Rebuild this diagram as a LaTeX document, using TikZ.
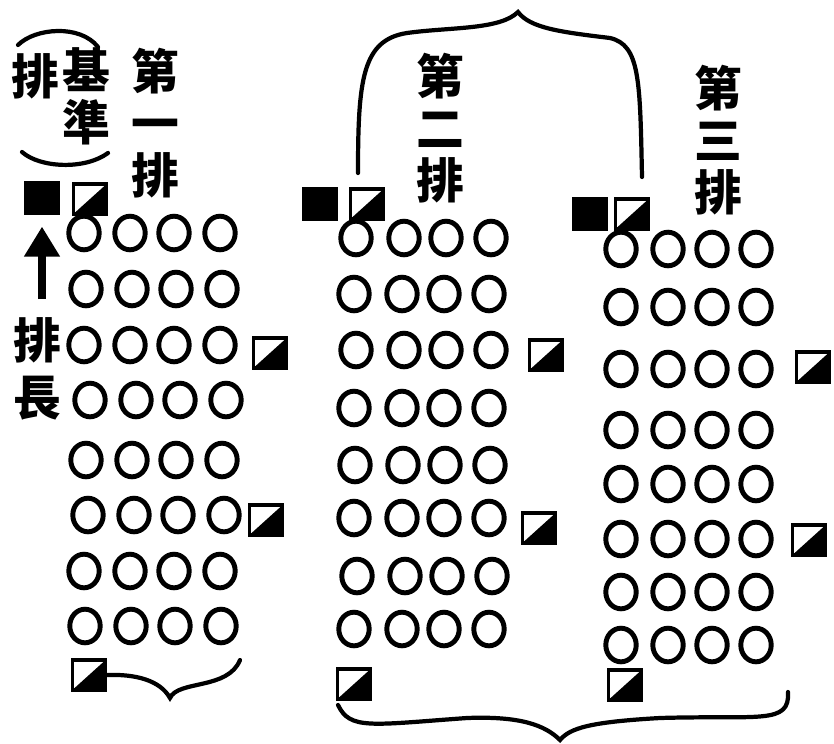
\documentclass[tikz,border=0pt]{standalone}
\usepackage{fontspec}
\newfontfamily\cjk{Noto Sans CJK TC}
\usetikzlibrary{shapes.geometric,arrows.meta}
\newcommand\platfont{\cjk\bfseries\fontsize{34}{37}\selectfont\setlength{\lineskiplimit}{-50pt}}
\tikzset{
  man/.style={ellipse,draw,line width=3.5pt,minimum width=0.76cm,minimum height=0.84cm,inner sep=0pt},
  ldr/.style={rectangle,draw,fill=black,line width=2.5pt,minimum width=0.82cm,minimum height=0.74cm,inner sep=0pt},
  nco/.style={rectangle,draw,line width=2.5pt,minimum width=0.82cm,minimum height=0.74cm,inner sep=0pt,
    path picture={\fill (path picture bounding box.south west) -- (path picture bounding box.south east)
      -- (path picture bounding box.north east) -- cycle;}},
  brace/.style={line width=3pt,line cap=round},
  vtext/.style={font=\platfont,align=center,inner sep=0pt},
}
\begin{document}
\begin{tikzpicture}[x=0.025cm,y=-0.025cm]
  \useasboundingbox (0,0) rectangle (834,743);
  % first platoon
  \foreach \r/\y/\dx in {1/233/0,2/289/2,3/345/0,4/400/6,5/460/2,6/515/4,7/571/0,8/626/1}
    \foreach \x [count=\k] in {84,130,174,220}
      \node[man] (p1-\r-\k) at (\x+\dx,\y) {};
  \node[ldr] (bk1) at (42,198) {};
  \node[nco] (hf1) at (90,199) {};
  \node[nco] (sg1a) at (270,353) {};
  \node[nco] (sg1b) at (266,520) {};
  \node[nco] (tl1) at (89,675) {};
  \node[vtext] (lbl1) at (155,123) {第\\一\\排};
  \node[vtext] (base) at (86,96) {基\\準};
  \node[vtext] (baseb) at (35,76) {排};
  \node[vtext,font=\cjk\bfseries\fontsize{34}{41}\selectfont] (pzlbl) at (37,369) {排\\長};
  \draw[brace] (18,45) .. controls (35,28) and (80,24) .. (98,47);
  \draw[brace] (22,152) .. controls (40,168) and (85,170) .. (108,153);
  \draw[line width=5.5pt,-{Triangle[width=0.85cm,length=0.75cm]},shorten <=0.45cm,shorten >=0.3cm]
    (pzlbl.north -| bk1) -- (bk1);
  \draw[brace] (tl1.east) .. controls (135,674) and (160,680) .. (170,698)
    .. controls (178,680) and (228,690) .. (240,660);
  % second platoon
  \foreach \r/\y/\dx in {1/238/0,2/294/-2,3/350/0,4/408/-2,5/465/-1,6/518/-2,7/576/1,8/629/-2}
    \foreach \x [count=\k] in {356,404,446,491}
      \node[man] (p2-\r-\k) at (\x+\dx,\y) {};
  \node[ldr] (bk2) at (320,204) {};
  \node[nco] (hf2) at (367,204) {};
  \node[nco] (sg2a) at (546,355) {};
  \node[nco] (sg2b) at (539,528) {};
  \node[nco] (tl2) at (354,684) {};
  \node[vtext] (lbl2) at (440,128) {第\\二\\排};
  % third platoon
  \foreach \r/\y/\dx in {1/249/0,2/307/0,3/369/0,4/430/0,5/484/0,6/539/0,7/592/0,8/645/0}
    \foreach \x [count=\k] in {621,668,712,756}
      \node[man] (p3-\r-\k) at (\x+\dx,\y) {};
  \node[ldr] (bk3) at (590,214) {};
  \node[nco] (hf3) at (632,214) {};
  \node[nco] (sg3a) at (813,367) {};
  \node[nco] (sg3b) at (809,540) {};
  \node[nco] (tl3) at (625,685) {};
  \node[vtext] (lbl3) at (718,140) {第\\三\\排};
  % braces over and under platoons 2-3
  \draw[brace] (358,173) .. controls (358,80) and (362,40) .. (407,33)
    .. controls (450,27) and (500,30) .. (518,12)
    .. controls (530,28) and (560,32) .. (610,38)
    .. controls (640,45) and (640,80) .. (642,177);
  \draw[brace] (338,705) .. controls (350,730) and (370,725) .. (467,718)
    .. controls (520,716) and (545,725) .. (560,740)
    .. controls (570,728) and (590,722) .. (660,718)
    .. controls (760,715) and (790,725) .. (788,692);
\end{tikzpicture}
\end{document}
